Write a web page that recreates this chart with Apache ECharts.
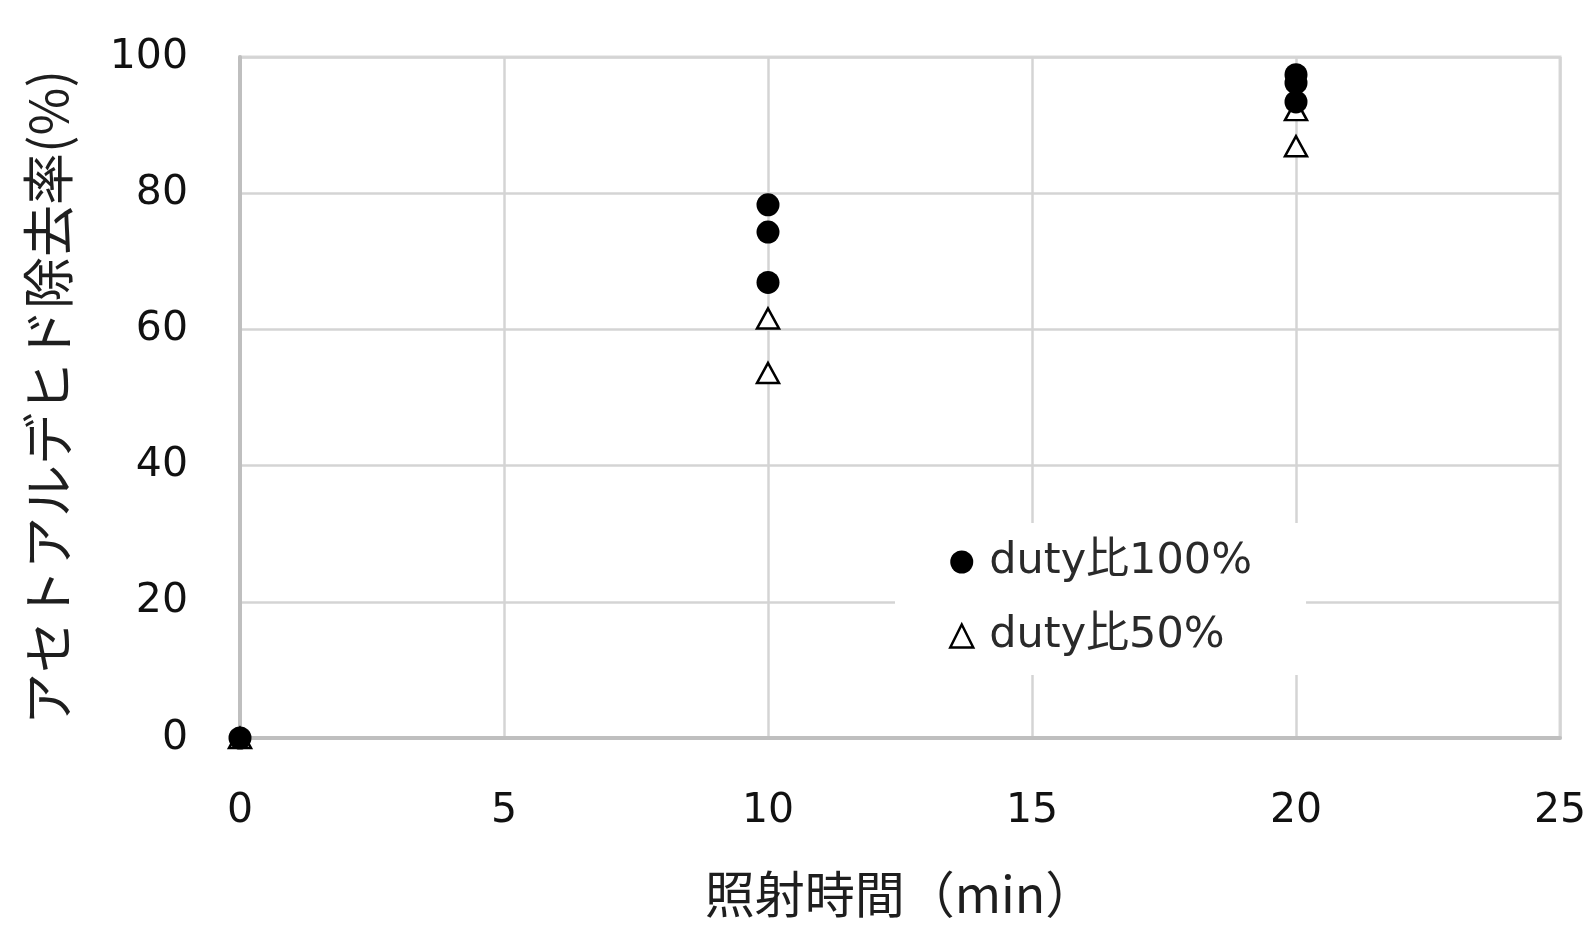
<!DOCTYPE html>
<html>
<head>
<meta charset="utf-8">
<script src="https://cdn.jsdelivr.net/npm/echarts@6/dist/echarts.min.js"></script>
<style>
  html, body { margin: 0; padding: 0; background: #ffffff; }
  #chart { width: 1593px; height: 927px; }
</style>
</head>
<body>
<div id="chart"></div>
<script>
// Irradiation time (min) and acetaldehyde removal (%) per duty ratio
const seriesNames = ['duty比100%', 'duty比50%'];
const duty100Time = [0, 10, 10, 10, 20, 20, 20];
const duty100Removal = [0, 78.3, 74.3, 66.9, 97.4, 96.2, 93.4];
const duty50Time = [0, 10, 10, 20, 20];
const duty50Removal = [0, 61.6, 53.6, 92.2, 86.9];
const xTicks = [0, 5, 10, 15, 20, 25];
const yTicks = [0, 20, 40, 60, 80, 100];

const pair = (xs, ys) => xs.map((x, i) => [x, ys[i]]);

const latin = "'DejaVu Sans', 'Noto Sans CJK JP', sans-serif";
const cjk = "'Noto Sans CJK JP', 'DejaVu Sans', sans-serif";

const chart = echarts.init(document.getElementById('chart'), null, { renderer: 'canvas' });

chart.setOption({
  backgroundColor: '#ffffff',
  animation: false,
  grid: {
    left: 240, right: 33, top: 57, bottom: 189,
    show: true, borderColor: '#dadada', borderWidth: 3, backgroundColor: 'transparent'
  },
  xAxis: {
    type: 'value',
    min: xTicks[0], max: xTicks[xTicks.length - 1], interval: xTicks[1] - xTicks[0],
    name: '照射時間（min）',
    nameLocation: 'middle',
    nameGap: 130,
    nameTextStyle: { fontFamily: cjk, fontSize: 50, color: '#1e1e1e', lineHeight: 52 },
    axisLine: { show: true, onZero: false, lineStyle: { color: '#bfbfbf', width: 4 } },
    axisTick: { show: false },
    axisLabel: { margin: 53, fontFamily: latin, fontSize: 41, lineHeight: 41, color: '#111111' },
    splitLine: { show: true, lineStyle: { color: '#d4d4d4', width: 2.5 } }
  },
  yAxis: {
    type: 'value',
    min: yTicks[0], max: yTicks[yTicks.length - 1], interval: yTicks[1] - yTicks[0],
    name: 'アセトアルデヒド除去率(%)',
    nameLocation: 'middle',
    nameGap: 166,
    nameRotate: 90,
    nameTextStyle: { fontFamily: cjk, fontSize: 52, color: '#1e1e1e', lineHeight: 52 },
    axisLine: { show: true, onZero: false, lineStyle: { color: '#bfbfbf', width: 4 } },
    axisTick: { show: false },
    axisLabel: { margin: 52, fontFamily: latin, fontSize: 41, color: '#111111' },
    splitLine: { show: true, lineStyle: { color: '#d4d4d4', width: 2.5 } }
  },
  legend: {
    orient: 'vertical',
    left: 895, top: 523,
    padding: [14, 54, 14, 54],
    itemGap: 24,
    itemWidth: 23, itemHeight: 23,
    backgroundColor: '#ffffff',
    data: [
      { name: seriesNames[0], icon: 'circle',
        itemStyle: { color: '#000000', borderWidth: 0 } },
      { name: seriesNames[1], icon: 'triangle',
        itemStyle: { color: '#ffffff', borderColor: '#000000', borderWidth: 2.5 } }
    ],
    textStyle: { fontFamily: latin, fontSize: 43, lineHeight: 50, color: '#2a2a2a', padding: [0, 0, 0, 11] }
  },
  series: [
    {
      name: seriesNames[1],
      type: 'scatter',
      clip: false,
      z: 3,
      symbol: 'triangle',
      symbolSize: [22, 20],
      itemStyle: { color: '#ffffff', borderColor: '#000000', borderWidth: 2.5, opacity: 1 },
      data: pair(duty50Time, duty50Removal)
    },
    {
      name: seriesNames[0],
      type: 'scatter',
      clip: false,
      z: 4,
      symbol: 'circle',
      symbolSize: 23,
      itemStyle: { color: '#000000', opacity: 1 },
      data: pair(duty100Time, duty100Removal)
    }
  ]
});
</script>
</body>
</html>
